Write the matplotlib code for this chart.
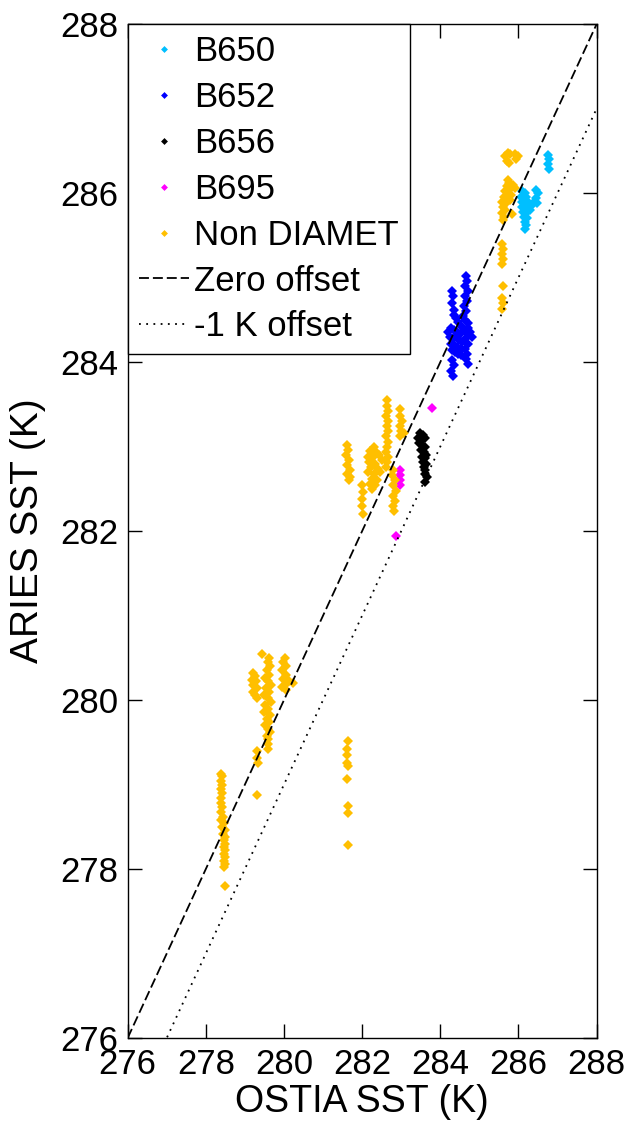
import matplotlib.pyplot as plt

plt.rcParams['font.family'] = ['Liberation Sans', 'DejaVu Sans']

# flight B650
b650_x = [286.10, 286.16, 286.06, 286.12, 286.20, 286.08, 286.16, 286.24, 286.10, 286.18,
          286.26, 286.12, 286.20, 286.30, 286.14, 286.22, 286.16, 286.20, 286.18, 286.34,
          286.40, 286.46, 286.50, 286.44, 286.48, 286.76, 286.78, 286.76, 286.78]
b650_y = [286.02, 286.00, 285.96, 285.94, 285.96, 285.90, 285.88, 285.90, 285.84, 285.82,
          285.84, 285.78, 285.76, 285.80, 285.72, 285.70, 285.66, 285.62, 285.58, 285.86,
          285.90, 285.94, 286.00, 286.04, 285.88, 286.45, 286.40, 286.34, 286.28]

# flight B652
b652_x = [284.66, 284.68, 284.64, 284.70, 284.62, 284.68, 284.60, 284.66, 284.58, 284.64,
          284.70, 284.56, 284.62, 284.68, 284.72, 284.66, 284.70, 284.64, 284.68, 284.66,
          284.70,
          284.30, 284.32, 284.30, 284.34, 284.36, 284.40, 284.46,
          284.20, 284.28, 284.36, 284.44, 284.52, 284.24, 284.32, 284.40, 284.48, 284.56,
          284.28, 284.36, 284.44, 284.52, 284.30, 284.38, 284.46, 284.54, 284.76, 284.80,
          284.30, 284.34, 284.28, 284.32]
b652_y = [285.02, 284.96, 284.90, 284.84, 284.78, 284.72, 284.66, 284.60, 284.54, 284.50,
          284.46, 284.42, 284.38, 284.34, 284.40, 284.28, 284.22, 284.16, 284.10, 284.04,
          283.98,
          284.84, 284.78, 284.70, 284.62, 284.56, 284.52, 284.48,
          284.36, 284.40, 284.38, 284.36, 284.34, 284.30, 284.28, 284.30, 284.26, 284.24,
          284.22, 284.20, 284.18, 284.16, 284.14, 284.12, 284.10, 284.08, 284.36, 284.30,
          284.02, 283.96, 283.90, 283.84]

# flight B656
b656_x = [283.48, 283.56, 283.44, 283.52, 283.60, 283.46, 283.54, 283.62, 283.50, 283.58,
          283.64, 283.52, 283.60, 283.56, 283.64, 283.58, 283.62, 283.60, 283.66, 283.62]
b656_y = [283.16, 283.14, 283.10, 283.08, 283.10, 283.04, 283.02, 283.00, 282.96, 282.94,
          282.90, 282.88, 282.86, 282.82, 282.80, 282.76, 282.72, 282.68, 282.64, 282.58]

# flight B695
b695_x = [283.80, 282.98, 282.96, 282.98, 282.96, 282.86]
b695_y = [283.46, 282.72, 282.66, 282.60, 282.55, 281.94]

# other flights (non DIAMET)
nd_x = [
    # ~278.4
    278.38, 278.42, 278.38, 278.42, 278.38, 278.42, 278.40, 278.38, 278.42, 278.40,
    278.44, 278.40, 278.46, 278.42, 278.48, 278.44, 278.48, 278.46, 278.50, 278.46,
    278.50, 278.46, 278.48, 278.46, 278.48, 278.46, 278.48,
    # ~279.5
    279.20, 279.25, 279.18, 279.28, 279.22, 279.30, 279.20, 279.26, 279.32,
    279.62, 279.58, 279.64, 279.56, 279.62, 279.52, 279.60, 279.66, 279.54, 279.62,
    279.48, 279.58, 279.66, 279.52, 279.60, 279.50, 279.64, 279.56, 279.62, 279.52,
    279.58, 279.64, 279.56, 279.60, 279.58, 279.60, 279.44,
    280.02, 279.98, 280.06, 279.96, 280.04, 279.98, 280.08, 279.96, 280.04, 280.14,
    280.24,
    279.32, 279.30, 279.34, 279.30,
    # ~281.6 low
    281.64, 281.62, 281.62, 281.60, 281.64, 281.60, 281.64, 281.64, 281.64,
    # ~282.5
    281.60, 281.64, 281.58, 281.66, 281.60, 281.68, 281.62, 281.70, 281.66,
    282.30, 282.20, 282.36, 282.14, 282.28, 282.42, 282.18, 282.34, 282.50, 282.22,
    282.40, 282.16, 282.30, 282.46, 282.24, 282.38, 282.20, 282.32, 282.26,
    282.64, 282.64, 282.66, 282.62, 282.66, 282.64, 282.66, 282.62, 282.66, 282.64,
    282.62, 282.66, 282.64, 282.62,
    282.96, 282.98, 283.02, 282.96, 283.00, 282.98, 283.06,
    282.80, 282.76, 282.84, 282.78, 282.86, 282.80, 282.84, 282.78, 282.82,
    282.00, 282.02, 282.00, 282.00, 282.02,
    # ~285.6
    285.58, 285.60, 285.58, 285.60, 285.58, 285.60, 285.58, 285.60, 285.58,
    285.66, 285.72, 285.78, 285.70, 285.76, 285.92, 285.98, 285.94,
    285.72, 285.76, 285.70, 285.80, 285.66, 285.74, 285.82, 285.62, 285.70, 285.78,
    285.58, 285.68, 285.60, 285.66, 285.58, 285.64, 285.60, 285.86, 285.90, 285.84,
]
nd_y = [
    279.12, 279.10, 279.04, 279.00, 278.95, 278.90, 278.84, 278.78, 278.74, 278.68,
    278.62, 278.58, 278.54, 278.50, 278.46, 278.42, 278.38, 278.34, 278.30, 278.26,
    278.22, 278.18, 278.14, 278.10, 278.06, 278.02, 277.80,
    280.32, 280.28, 280.24, 280.22, 280.18, 280.14, 280.10, 280.06, 280.02,
    280.50, 280.45, 280.40, 280.35, 280.30, 280.26, 280.22, 280.18, 280.14, 280.10,
    280.06, 280.02, 279.98, 279.94, 279.90, 279.86, 279.82, 279.78, 279.74, 279.70,
    279.66, 279.62, 279.58, 279.54, 279.48, 279.42, 280.54,
    280.50, 280.45, 280.40, 280.35, 280.30, 280.25, 280.20, 280.16, 280.12, 280.22,
    280.20,
    279.40, 279.32, 279.26, 278.88,
    279.51, 279.42, 279.35, 279.26, 279.22, 279.07, 278.75, 278.66, 278.29,
    283.02, 282.96, 282.90, 282.84, 282.78, 282.72, 282.68, 282.64, 282.60,
    283.00, 282.95, 282.94, 282.88, 282.88, 282.90, 282.82, 282.80, 282.84, 282.76,
    282.74, 282.70, 282.68, 282.70, 282.62, 282.60, 282.56, 282.54, 282.50,
    283.55, 283.48, 283.42, 283.36, 283.30, 283.24, 283.18, 283.12, 283.06, 283.00,
    282.94, 282.88, 282.82, 282.76,
    283.44, 283.36, 283.30, 283.24, 283.18, 283.12, 283.16,
    282.72, 282.66, 282.60, 282.54, 282.48, 282.42, 282.36, 282.30, 282.24,
    282.54, 282.46, 282.38, 282.30, 282.20,
    285.40, 285.34, 285.28, 285.22, 285.16, 284.90, 284.76, 284.70, 284.63,
    286.44, 286.48, 286.46, 286.38, 286.36, 286.46, 286.44, 286.40,
    286.16, 286.12, 286.08, 286.06, 286.02, 286.00, 285.98, 285.96, 285.94, 285.92,
    285.90, 285.88, 285.84, 285.80, 285.76, 285.72, 285.68, 286.10, 286.06, 285.75,
]

sst_range = [276, 288]

fig = plt.figure(figsize=(6.32, 11.24), dpi=100)
ax = fig.add_axes([0.202, 0.0765, 0.742, 0.902])

ms = 5.0
ax.plot(b650_x, b650_y, 'D', color='#00bfff', ms=ms, mew=0, label='B650')
ax.plot(b652_x, b652_y, 'D', color='#0000ff', ms=ms, mew=0, label='B652')
ax.plot(b656_x, b656_y, 'D', color='black', ms=ms, mew=0, label='B656')
ax.plot(b695_x, b695_y, 'D', color='#ff00ff', ms=ms, mew=0, label='B695')
ax.plot(nd_x, nd_y, 'D', color='#ffbf00', ms=ms, mew=0, label='Non DIAMET')

# 1:1 line and the same shifted down by 1 K
ax.plot(sst_range, sst_range, color='black', ls=(0, (5.5, 2.2)), lw=1.3, label='Zero offset')
ax.plot(sst_range, [v - 1 for v in sst_range], color='black', ls=(0, (1, 3)), lw=1.3,
        label='-1 K offset')

ax.set_xlim(276, 288)
ax.set_ylim(276, 288)
ax.set_xticks(range(276, 289, 2))
ax.set_yticks(range(276, 289, 2))
ax.tick_params(direction='in', length=10, width=1, labelsize=25, top=True, right=True, pad=7)
for s in ax.spines.values():
    s.set_linewidth(1)

ax.set_xlabel('OSTIA SST (K)', fontsize=27, labelpad=2)
ax.set_ylabel('ARIES SST (K)', fontsize=28, labelpad=10)

leg = ax.legend(loc='upper left', fontsize=25, frameon=True, fancybox=False,
                edgecolor='black', framealpha=1, borderaxespad=0, handlelength=1.45,
                handletextpad=0.15, labelspacing=0.37, borderpad=0.32, markerscale=0.7)
leg.get_frame().set_linewidth(1)

fig.savefig('out.png', dpi=100)
